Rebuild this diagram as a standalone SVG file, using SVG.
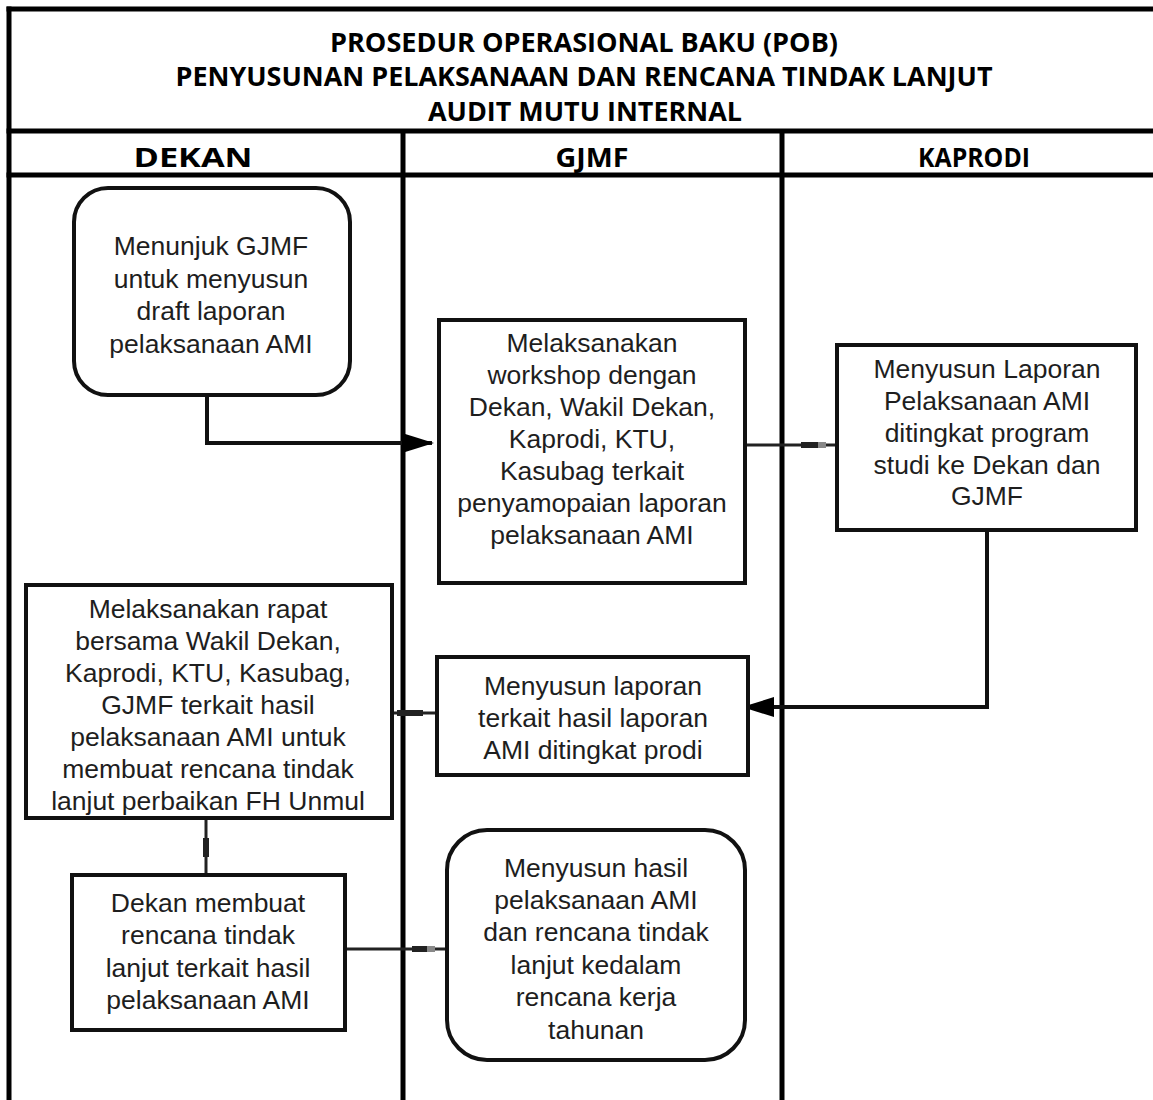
<svg xmlns="http://www.w3.org/2000/svg" width="1153" height="1100" viewBox="0 0 1153 1100">
<style>
.frame{fill:none;stroke:#000;stroke-width:5}
.box{fill:#fff;stroke:#111;stroke-width:4}
.t{font-family:"Liberation Sans",Arial,sans-serif;font-size:26.5px;fill:#1e1e1e;text-anchor:middle}
.h{font-family:"Open Sans","Liberation Sans",sans-serif;font-weight:bold;font-size:27px;fill:#000;text-anchor:middle}
.c{fill:none;stroke:#222;stroke-width:3}
.ca{fill:none;stroke:#111;stroke-width:4}
.mk{fill:#222}
</style>
<defs>
<marker id="ah" markerWidth="8" markerHeight="6" refX="7.5" refY="3" orient="auto" markerUnits="strokeWidth" viewBox="0 0 8 6">
<path d="M0,0.5 L8,3 L0,5.5 Z" fill="#000"/>
</marker>
</defs>
<rect width="1153" height="1100" fill="#fff"/>
<g id="frame">
<line class="frame" x1="9" y1="6.5" x2="9" y2="1100"/>
<line class="frame" x1="6.5" y1="9" x2="1153" y2="9"/>
<line class="frame" x1="6.5" y1="131" x2="1153" y2="131"/>
<line class="frame" x1="6.5" y1="175" x2="1153" y2="175"/>
<line class="frame" x1="403" y1="131" x2="403" y2="1100"/>
<line class="frame" x1="782" y1="131" x2="782" y2="1100"/>
<text class="h" x="584" y="52" textLength="508" lengthAdjust="spacingAndGlyphs">PROSEDUR OPERASIONAL BAKU (POB)</text>
<text class="h" x="584" y="86" textLength="817" lengthAdjust="spacingAndGlyphs">PENYUSUNAN PELAKSANAAN DAN RENCANA TINDAK LANJUT</text>
<text class="h" x="585" y="121" textLength="314" lengthAdjust="spacingAndGlyphs">AUDIT MUTU INTERNAL</text>
<text class="h" x="193" y="167" textLength="119" lengthAdjust="spacingAndGlyphs">DEKAN</text>
<text class="h" x="592" y="167" textLength="73" lengthAdjust="spacingAndGlyphs">GJMF</text>
<text class="h" x="974" y="167" textLength="112" lengthAdjust="spacingAndGlyphs">KAPRODI</text>
</g>
<g id="connectors">
<polyline class="ca" points="207,395 207,443 432,443" marker-end="url(#ah)"/>
<line class="c" x1="745" y1="445" x2="838" y2="445"/>
<rect class="mk" x="801" y="442" width="17" height="6"/>
<rect x="818" y="442" width="8" height="6" fill="#888"/>
<polyline class="ca" points="987,530 987,707 744,707" marker-end="url(#ah)"/>
<line class="c" x1="392" y1="713" x2="437" y2="713"/>
<rect class="mk" x="397" y="710" width="26" height="6"/>
<line class="c" x1="206" y1="818" x2="206" y2="875"/>
<rect class="mk" x="203" y="838" width="6" height="19"/>
<line class="c" x1="347" y1="949" x2="447" y2="949"/>
<rect class="mk" x="412" y="946" width="15" height="6"/>
<rect x="427" y="946" width="8" height="6" fill="#888"/>
</g>
<g id="n1">
<rect class="box" x="74" y="188" width="276" height="207" rx="34"/>
<text class="t" x="211" y="255">Menunjuk GJMF</text>
<text class="t" x="211" y="288">untuk menyusun</text>
<text class="t" x="211" y="320">draft laporan</text>
<text class="t" x="211" y="353">pelaksanaan AMI</text>
</g>
<g id="n2">
<rect class="box" x="439" y="320" width="306" height="263"/>
<text class="t" x="592" y="352">Melaksanakan</text>
<text class="t" x="592" y="384">workshop dengan</text>
<text class="t" x="592" y="416">Dekan, Wakil Dekan,</text>
<text class="t" x="592" y="448">Kaprodi, KTU,</text>
<text class="t" x="592" y="480">Kasubag terkait</text>
<text class="t" x="592" y="512">penyamopaian laporan</text>
<text class="t" x="592" y="544">pelaksanaan AMI</text>
</g>
<g id="n3">
<rect class="box" x="837" y="345" width="299" height="185"/>
<text class="t" x="987" y="378">Menyusun Laporan</text>
<text class="t" x="987" y="410">Pelaksanaan AMI</text>
<text class="t" x="987" y="442">ditingkat program</text>
<text class="t" x="987" y="474">studi ke Dekan dan</text>
<text class="t" x="987" y="505">GJMF</text>
</g>
<g id="n4">
<rect class="box" x="26" y="585" width="366" height="233"/>
<text class="t" x="208" y="618">Melaksanakan rapat</text>
<text class="t" x="208" y="650">bersama Wakil Dekan,</text>
<text class="t" x="208" y="682">Kaprodi, KTU, Kasubag,</text>
<text class="t" x="208" y="714">GJMF terkait hasil</text>
<text class="t" x="208" y="746">pelaksanaan AMI untuk</text>
<text class="t" x="208" y="778">membuat rencana tindak</text>
<text class="t" x="208" y="810">lanjut perbaikan FH Unmul</text>
</g>
<g id="n5">
<rect class="box" x="437" y="657" width="311" height="118"/>
<text class="t" x="593" y="695">Menyusun laporan</text>
<text class="t" x="593" y="727">terkait hasil laporan</text>
<text class="t" x="593" y="759">AMI ditingkat prodi</text>
</g>
<g id="n6">
<rect class="box" x="72" y="875" width="273" height="155"/>
<text class="t" x="208" y="912">Dekan membuat</text>
<text class="t" x="208" y="944">rencana tindak</text>
<text class="t" x="208" y="977">lanjut terkait hasil</text>
<text class="t" x="208" y="1009">pelaksanaan AMI</text>
</g>
<g id="n7">
<rect class="box" x="447" y="830" width="298" height="230" rx="40"/>
<text class="t" x="596" y="877">Menyusun hasil</text>
<text class="t" x="596" y="909">pelaksanaan AMI</text>
<text class="t" x="596" y="941">dan rencana tindak</text>
<text class="t" x="596" y="974">lanjut kedalam</text>
<text class="t" x="596" y="1006">rencana kerja</text>
<text class="t" x="596" y="1039">tahunan</text>
</g>
</svg>
